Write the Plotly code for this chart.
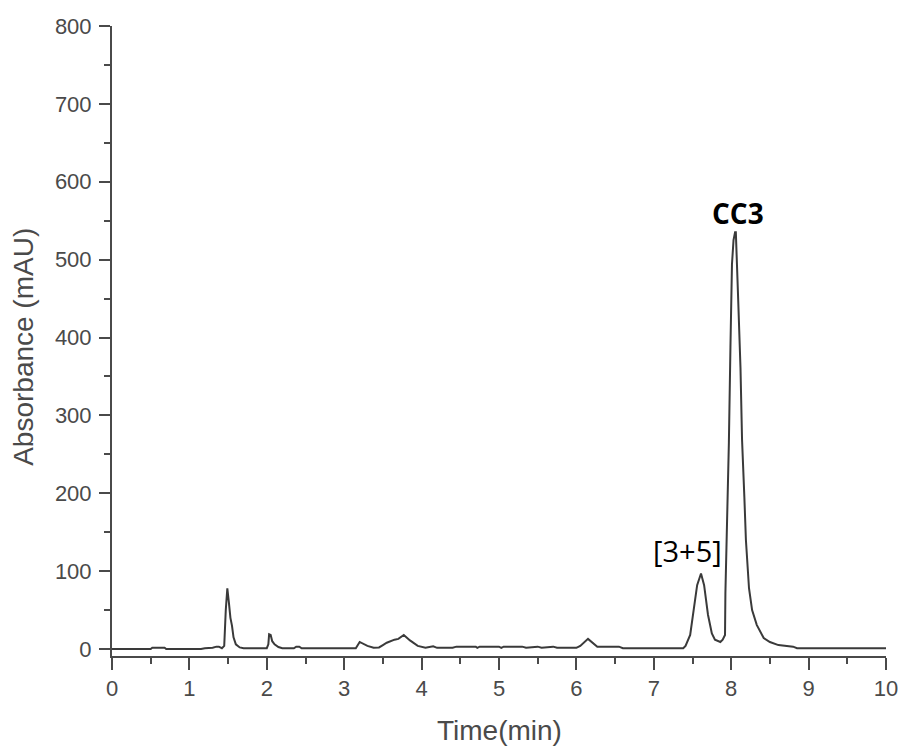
import plotly.graph_objects as go

# Trace
time_min = [0, 0.5, 0.52, 0.68, 0.7, 1.15, 1.2, 1.3, 1.35, 1.38, 1.42, 1.45, 1.47, 1.49, 1.51, 1.53, 1.55, 1.57,
            1.6, 1.65, 1.7, 2.0, 2.02, 2.03, 2.05, 2.07, 2.1, 2.15, 2.2, 2.35, 2.38, 2.42, 2.45, 3.15, 3.2, 3.3,
            3.38, 3.45, 3.5, 3.55, 3.65, 3.7, 3.77, 3.85, 3.95, 4.05, 4.15, 4.2, 4.4, 4.45, 4.7, 4.72, 4.75, 5.0,
            5.03, 5.06, 5.3, 5.35, 5.5, 5.55, 5.7, 5.75, 6.0, 6.05, 6.15, 6.2, 6.27, 6.55, 6.6, 7.38, 7.41, 7.47,
            7.51, 7.56, 7.61, 7.65, 7.7, 7.75, 7.79, 7.86, 7.89, 7.92, 7.925, 7.945, 7.97, 7.99, 8.01, 8.03, 8.05,
            8.06, 8.07, 8.09, 8.12, 8.14, 8.17, 8.19, 8.23, 8.27, 8.33, 8.42, 8.5, 8.61, 8.8, 8.85, 10]
absorbance = [0, 0, 1.5, 1.5, 0, 0, 1, 1.5, 3, 3, 1, 4, 50, 78, 60, 40, 30, 15,
              6, 2, 1, 1, 6, 19, 18, 10, 6, 2.5, 1, 1, 3, 3, 1, 1, 9, 4,
              1.5, 2, 5, 8, 12, 13, 18, 11, 4, 1.5, 3.5, 1.5, 1.5, 3, 3, 1.5, 3, 3,
              1.5, 3, 3, 1.5, 3, 1.5, 3, 1.5, 1.5, 4, 13, 9, 3, 3, 1, 1, 4, 18,
              48, 82, 97, 82, 44, 20, 12, 9, 12, 18, 72, 146, 265, 387, 494, 525, 535,
              535, 510, 449, 361, 269, 195, 140, 78, 50, 31, 14, 9, 5, 3, 1, 1]

x_ticks = [0, 1, 2, 3, 4, 5, 6, 7, 8, 9, 10]
y_ticks = [0, 100, 200, 300, 400, 500, 600, 700, 800]

axis_color = '#4a4a4a'
label_font = dict(family='Liberation Sans', size=22, color='#4a4a4a')
title_font = dict(family='Liberation Sans', size=28, color='#4a4a4a')

fig = go.Figure(go.Scatter(x=time_min, y=absorbance, mode='lines',
                           line=dict(color='#3a3a3a', width=2), showlegend=False))

fig.update_layout(
    width=899,
    height=746,
    paper_bgcolor='white',
    plot_bgcolor='white',
    margin=dict(l=112, r=13, t=26, b=90),
    xaxis=dict(
        range=[0, 10], tickvals=x_ticks, ticks='outside', ticklen=12, tickwidth=2, tickcolor=axis_color,
        showgrid=False, zeroline=False, showline=True, linecolor=axis_color, linewidth=2, tickfont=label_font,
        automargin=False,
        minor=dict(dtick=0.5, tick0=0, ticks='outside', ticklen=6, tickwidth=2, tickcolor=axis_color, showgrid=False),
    ),
    yaxis=dict(
        range=[-9, 800], tickvals=y_ticks, ticks='outside', ticklen=11, tickwidth=2, tickcolor=axis_color,
        showgrid=False, zeroline=False, showline=True, linecolor=axis_color, linewidth=2, tickfont=label_font,
        ticklabelstandoff=3, automargin=False,
        minor=dict(dtick=50, tick0=0, ticks='outside', ticklen=6, tickwidth=2, tickcolor=axis_color, showgrid=False),
    ),
)

# Axis titles
fig.add_annotation(x=5, xref='x', y=0, yref='paper', yshift=-74, yanchor='middle', text='Time(min)',
                   showarrow=False, font=title_font)
fig.add_annotation(x=0, xref='paper', xshift=-88, xanchor='center', y=388, yref='y', text='Absorbance (mAU)',
                   textangle=-90, showarrow=False, font=title_font)

# Peak labels
fig.add_annotation(x=8.09, y=560, text='<b>CC3</b>', showarrow=False,
                   font=dict(family='Open Sans', size=28, color='black'))
fig.add_annotation(x=7.43, y=126, text='[3+5]', showarrow=False,
                   font=dict(family='Open Sans', size=29, color='black'))

# Drop the page's default body margin so the figure fills the window
fig.write_html("out.html", config=dict(displayModeBar=False), post_script="document.body.style.margin = '0';")
